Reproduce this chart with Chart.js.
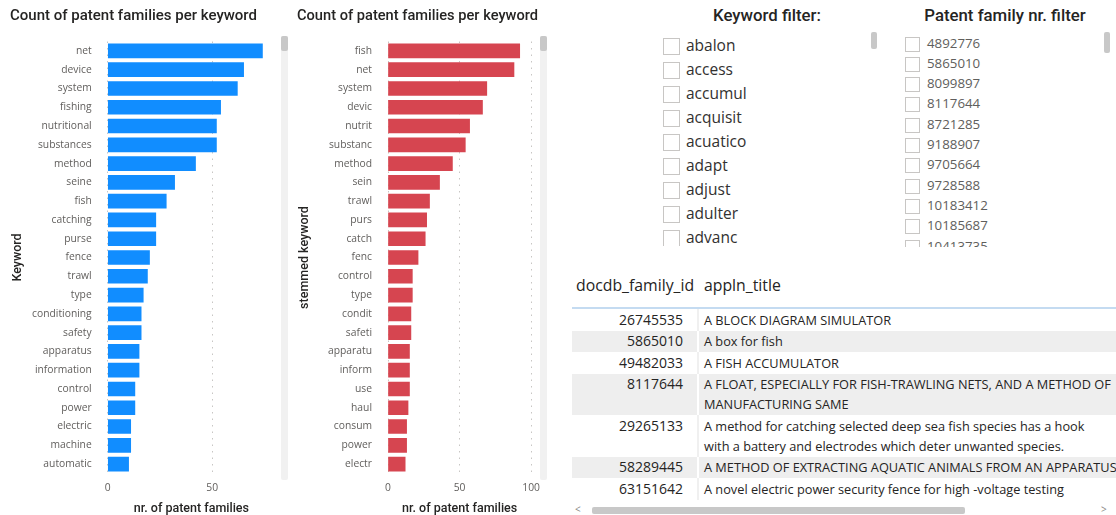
<!DOCTYPE html>
<html>
<head>
<meta charset="utf-8">
<title>Patent families</title>
<script src="https://cdn.jsdelivr.net/npm/chart.js@4.4.1/dist/chart.umd.min.js"></script>
<style>
  body { margin: 0; width: 1116px; height: 515px; overflow: hidden; background: #fff; position: relative; font-family: "Open Sans", sans-serif; }
  canvas { position: absolute; top: 0; }
  .vscroll { position: absolute; width: 7px; background: #f1f1f1; border-radius: 2px; }
  .vscroll .thumb { position: absolute; left: 0; top: 0; width: 7px; background: #c8c8c8; border-radius: 2px; }
  .slicer-title { position: absolute; top: 5px; font-family: Roboto, sans-serif; font-weight: 500; font-size: 16.8px; color: #252423; white-space: nowrap; transform: translateX(-50%); }
  .slicer { position: absolute; overflow: hidden; }
  .slicer .item { position: absolute; left: 0; white-space: nowrap; }
  .slicer .box { position: absolute; left: 0; border: 1px solid #c8c6c4; background: #fff; box-sizing: border-box; }
  #kwSlicer { left: 663px; top: 30px; width: 200px; height: 216px; color: #323130; font-size: 15.5px; }
  #kwSlicer .box { width: 17px; height: 17px; }
  #kwSlicer .label { position: absolute; left: 23px; }
  #famSlicer { left: 905px; top: 30px; width: 190px; height: 217px; color: #605e5c; font-size: 13.3px; }
  #famSlicer .box { width: 15px; height: 15px; }
  #famSlicer .label { position: absolute; left: 22px; }
  #table { position: absolute; left: 570px; top: 260px; width: 546px; height: 255px; overflow: hidden; color: #252423; }
  #table .head { position: absolute; top: 14px; font-size: 15.8px; white-space: nowrap; }
  #table .rule { position: absolute; left: 2px; right: 0; top: 47px; height: 2px; background: #c4dbf1; }
  #table .row { position: absolute; left: 2px; width: 560px; }
  #table .row.alt { background: #eeeeee; }
  #table .id { position: absolute; right: 449px; top: 0; font-size: 14px; line-height: 20px; padding-top: 0.75px; color: #252423; }
  #table .txt { position: absolute; left: 132px; top: 0; font-size: 12.75px; line-height: 20px; padding-top: 0.75px; white-space: pre; }
  #table .sep { position: absolute; left: 125px; top: 0; bottom: 0; width: 2px; }
  #hscroll { position: absolute; left: 570px; top: 500px; width: 546px; height: 15px; background: #fff; }
  #hscroll .thumb { position: absolute; left: 22px; top: 7px; width: 373px; height: 7px; background: #c8c8c8; border-radius: 2px; }
  #hscroll .arr { position: absolute; top: 2px; font-size: 10px; color: #8a8886; }
</style>
</head>
<body>
<canvas id="kwChart" width="280" height="515" style="left:0"></canvas>
<canvas id="stemChart" width="261" height="515" style="left:287px"></canvas>
<div class="vscroll" style="left:281px; top:36px; height:444px"><div class="thumb" style="height:15px"></div></div>
<div class="vscroll" style="left:540px; top:36px; height:444px"><div class="thumb" style="height:15px"></div></div>

<div class="slicer-title" style="left:767px">Keyword filter:</div>
<div class="slicer-title" style="left:1005px">Patent family nr. filter</div>
<div id="kwSlicer" class="slicer"></div>
<div id="famSlicer" class="slicer"></div>
<div class="vscroll" style="left:871px; top:32px; height:17px; width:6px; background:#c8c8c8"></div>
<div class="vscroll" style="left:1104px; top:32px; height:21px; width:6px; background:#c8c8c8"></div>

<div id="table"></div>
<div id="hscroll"><span class="arr" style="left:5px">&lt;</span><div class="thumb"></div><span class="arr" style="left:531px">&gt;</span></div>

<script>
// keyword counts (top of the list)
const keywords = ['net', 'device', 'system', 'fishing', 'nutritional', 'substances', 'method', 'seine', 'fish',
  'catching', 'purse', 'fence', 'trawl', 'type', 'conditioning', 'safety', 'apparatus', 'information',
  'control', 'power', 'electric', 'machine', 'automatic'];
const keywordCounts = [74, 65, 62, 54, 52, 52, 42, 32, 28, 23, 23, 20, 19, 17, 16, 16, 15, 15, 13, 13, 11, 11, 10];

// stemmed keyword counts
const stems = ['fish', 'net', 'system', 'devic', 'nutrit', 'substanc', 'method', 'sein', 'trawl', 'purs',
  'catch', 'fenc', 'control', 'type', 'condit', 'safeti', 'apparatu', 'inform', 'use', 'haul',
  'consum', 'power', 'electr'];
const stemCounts = [92, 88, 69, 66, 57, 54, 45, 36, 29, 27, 26, 21, 17, 17, 16, 16, 15, 15, 15, 14, 13, 13, 12];

const axisTicks = [0, 50, 100];

// slicer entries
const keywordFilterItems = ['abalon', 'access', 'accumul', 'acquisit', 'acuatico', 'adapt', 'adjust', 'adulter', 'advanc'];
const familyFilterItems = ['4892776', '5865010', '8099897', '8117644', '8721285', '9188907', '9705664',
  '9728588', '10183412', '10185687', '10413735'];

// table rows
const tableIds = ['26745535', '5865010', '49482033', '8117644', '29265133', '58289445', '63151642'];
const tableTitles = [
  'A BLOCK DIAGRAM SIMULATOR',
  'A box for fish',
  'A FISH ACCUMULATOR',
  'A FLOAT, ESPECIALLY FOR FISH-TRAWLING NETS, AND A METHOD OF\nMANUFACTURING SAME',
  'A method for catching selected deep sea fish species has a hook\nwith a battery and electrodes which deter unwanted species.',
  'A METHOD OF EXTRACTING AQUATIC ANIMALS FROM AN APPARATUS',
  'A novel electric power security fence for high -voltage testing'
];

const tickFont = { family: 'Open Sans', size: 10.3 };
const titleFont = { family: 'Roboto', size: 15, weight: '500' };
const axisTitleFont = { family: 'Roboto', size: 12.5, weight: '500' };

function barChart(id, labels, values, color, yTitle, xMax, yWidth, padRight) {
  return new Chart(document.getElementById(id), {
    type: 'bar',
    data: {
      labels: labels,
      datasets: [{ data: values, backgroundColor: color, borderWidth: 0, barThickness: 14 }]
    },
    options: {
      indexAxis: 'y',
      responsive: false,
      animation: false,
      layout: { padding: { left: 10, right: padRight, top: 0, bottom: 0 } },
      plugins: {
        legend: { display: false },
        tooltip: { enabled: false },
        title: {
          display: true,
          text: 'Count of patent families per keyword',
          align: 'start',
          color: '#252423',
          font: titleFont,
          padding: { top: 7, bottom: 16.5 }
        }
      },
      scales: {
        x: {
          min: 0,
          max: xMax,
          afterBuildTicks(scale) {
            scale.ticks = axisTicks.filter(v => v <= xMax).map(v => ({ value: v }));
          },
          ticks: { color: '#605e5c', font: tickFont, padding: 8 },
          grid: { color: '#c8c6c4', drawTicks: false },
          border: { display: false, dash: [1.5, 5] },
          title: { display: true, text: 'nr. of patent families', color: '#252423', font: axisTitleFont, padding: { top: 0, bottom: -1 } },
          afterFit(scale) { scale.height = 41.5; }
        },
        y: {
          grid: { display: false },
          border: { display: false },
          ticks: { color: '#605e5c', font: tickFont, padding: 8, autoSkip: false },
          title: { display: true, text: yTitle, color: '#252423', font: axisTitleFont, padding: { top: 0.8, bottom: 0 } },
          afterFit(scale) { scale.width = yWidth; }
        }
      }
    }
  });
}

barChart('kwChart', keywords, keywordCounts, '#118dff', 'Keyword', 80, 97.7, 5);
barChart('stemChart', stems, stemCounts, '#d64550', 'stemmed keyword', 100, 91, 10);

// slicers
const kw = document.getElementById('kwSlicer');
keywordFilterItems.forEach((t, i) => {
  const y = 8 + i * 24;
  kw.insertAdjacentHTML('beforeend',
    `<div class="item" style="top:${y}px"><div class="box"></div><span class="label" style="top:-4px">${t}</span></div>`);
});
const fam = document.getElementById('famSlicer');
familyFilterItems.forEach((t, i) => {
  const y = 6.5 + i * 20.3;
  fam.insertAdjacentHTML('beforeend',
    `<div class="item" style="top:${y}px"><div class="box"></div><span class="label" style="top:-3px">${t}</span></div>`);
});

// table
const table = document.getElementById('table');
table.insertAdjacentHTML('beforeend',
  '<div class="head" style="left:6px">docdb_family_id</div><div class="head" style="left:134px">appln_title</div><div class="rule"></div>');
let rowTop = 49;
tableIds.forEach((id, i) => {
  const lines = tableTitles[i].split('\n').length;
  const h = lines * 20 + 1.5;
  const alt = i % 2 === 1;
  table.insertAdjacentHTML('beforeend',
    `<div class="row${alt ? ' alt' : ''}" style="top:${rowTop}px;height:${h}px">` +
    `<div class="sep" style="background:${alt ? '#ffffff' : '#f0f0f0'}"></div>` +
    `<div class="id">${id}</div><div class="txt">${tableTitles[i]}</div></div>`);
  rowTop += h;
});
</script>
</body>
</html>
